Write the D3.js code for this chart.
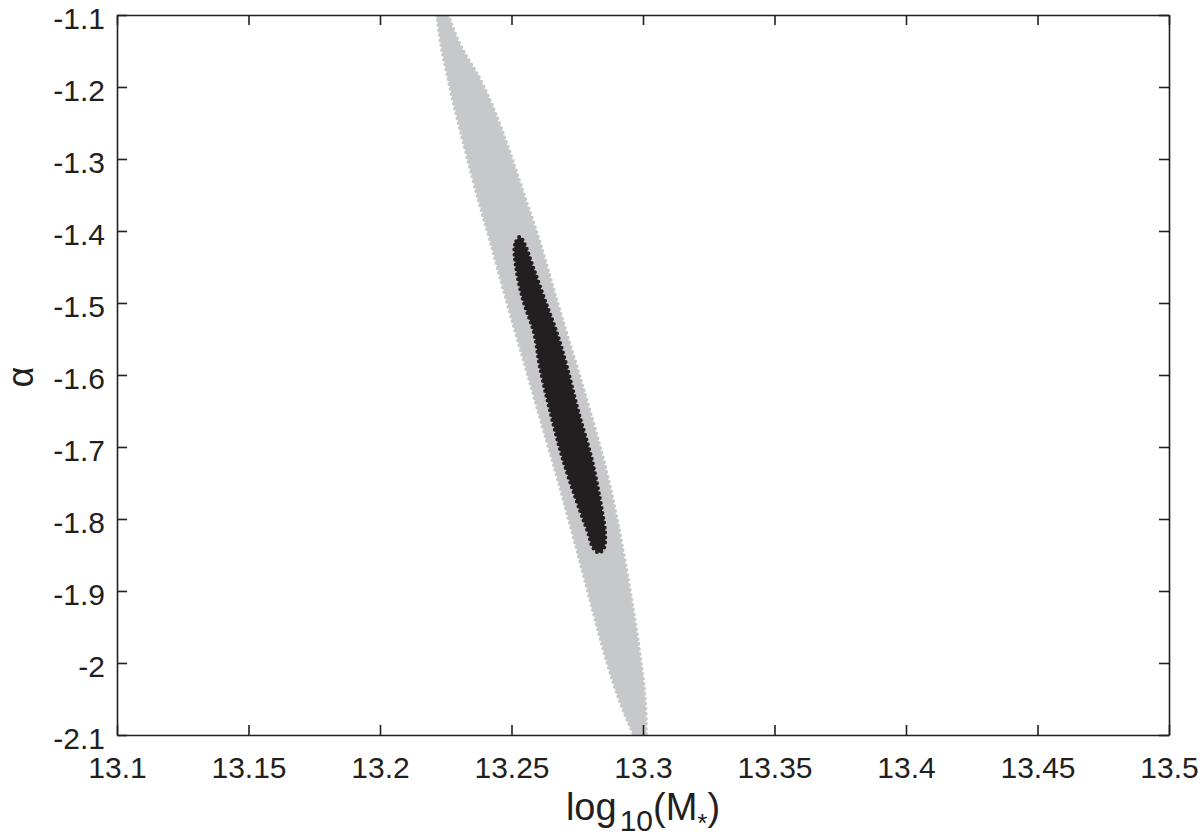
<!DOCTYPE html>
<html>
<head>
    <script src="https://d3js.org/d3.v7.min.js"></script>
    <style>
        body { margin: 0; background: #fff; }
        .axis text {
            font-family: "Liberation Sans", Arial, sans-serif;
            font-size: 30px;
            fill: #231f20;
        }
        .axis path, .axis line {
            stroke: #231f20;
            stroke-width: 1.6px;
        }
        .label {
            font-family: "Liberation Sans", Arial, sans-serif;
            fill: #231f20;
        }
    </style>
</head>
<body>
    <div id="chart"></div>

    <script>
        // tick values
        const xTicks = [13.1, 13.15, 13.2, 13.25, 13.3, 13.35, 13.4, 13.45, 13.5];
        const yTicks = [-2.1, -2, -1.9, -1.8, -1.7, -1.6, -1.5, -1.4, -1.3, -1.2, -1.1];

        // outer (grey) region: left and right edge of log10(M*) at each alpha level
        const outerAlpha = [-1.10, -1.12, -1.15, -1.18, -1.22, -1.29, -1.36, -1.41, -1.50, -1.58, -1.65, -1.72, -1.79, -1.90, -1.97, -2.05, -2.10];
        const outerLeft  = [13.2217, 13.2224, 13.2236, 13.2255, 13.2278, 13.2327, 13.2376, 13.2418, 13.2483, 13.2548, 13.2601, 13.2658, 13.2711, 13.2791, 13.2840, 13.2905, 13.2966];
        const outerRight = [13.2259, 13.2278, 13.2312, 13.2369, 13.2422, 13.2494, 13.2555, 13.2605, 13.2673, 13.2741, 13.2798, 13.2852, 13.2897, 13.2951, 13.2981, 13.3011, 13.3011];

        // inner (black) region
        const innerTop = [13.2532, -1.408];
        const innerBottom = [13.2833, -1.847];
        const innerAlpha = [-1.419, -1.450, -1.496, -1.542, -1.589, -1.649, -1.718, -1.788, -1.819, -1.840];
        const innerLeft  = [13.2513, 13.2517, 13.2544, 13.2586, 13.2608, 13.2646, 13.2696, 13.2760, 13.2791, 13.2810];
        const innerRight = [13.2551, 13.2582, 13.2627, 13.2673, 13.2711, 13.2753, 13.2806, 13.2844, 13.2856, 13.2852];

        const W = 1200, H = 840;
        const margin = { top: 15, right: 31, bottom: 105, left: 117 };
        const width = W - margin.left - margin.right;
        const height = H - margin.top - margin.bottom;

        const svg = d3.select("#chart").append("svg")
            .attr("width", W)
            .attr("height", H);

        const g = svg.append("g")
            .attr("transform", `translate(${margin.left},${margin.top})`);

        const x = d3.scaleLinear().domain([13.1, 13.5]).range([0, width]);
        const y = d3.scaleLinear().domain([-2.1, -1.1]).range([height, 0]);

        g.append("clipPath").attr("id", "plot-clip")
            .append("rect")
            .attr("width", width)
            .attr("height", height);

        const regions = g.append("g").attr("clip-path", "url(#plot-clip)");

        function drawRegion(d, color) {
            regions.append("path")
                .attr("d", d)
                .attr("fill", color);
            // dotted edge gives the scalloped look of the scatter grid
            regions.append("path")
                .attr("d", d)
                .attr("fill", "none")
                .attr("stroke", color)
                .attr("stroke-width", 4)
                .attr("stroke-linecap", "round")
                .attr("stroke-dasharray", "0 5");
        }

        // grey band: area between left and right edges
        const outerArea = d3.area()
            .y(i => y(outerAlpha[i]))
            .x0(i => x(outerLeft[i]))
            .x1(i => x(outerRight[i]))
            .curve(d3.curveBasis);
        drawRegion(outerArea(d3.range(outerAlpha.length)), "#c7c8ca");

        // black core: closed outline
        const innerPts = [innerTop]
            .concat(innerAlpha.map((a, i) => [innerLeft[i], a]))
            .concat([innerBottom])
            .concat(innerAlpha.map((a, i) => [innerRight[i], a]).reverse());
        const innerLine = d3.line()
            .x(d => x(d[0]))
            .y(d => y(d[1]))
            .curve(d3.curveCatmullRomClosed.alpha(0.5));
        drawRegion(innerLine(innerPts), "#231f20");

        const fmt = d => String(+d.toFixed(2));

        // axes, ticks pointing inward
        g.append("g")
            .attr("class", "axis")
            .attr("transform", `translate(0,${height})`)
            .call(d3.axisBottom(x).tickValues(xTicks).tickFormat(fmt)
                .tickSizeInner(-10).tickSizeOuter(0).tickPadding(22));

        g.append("g")
            .attr("class", "axis")
            .call(d3.axisLeft(y).tickValues(yTicks).tickFormat(fmt)
                .tickSizeInner(-10).tickSizeOuter(0).tickPadding(12))
            .selectAll("text").attr("dy", "0.44em");

        g.append("g")
            .attr("class", "axis")
            .call(d3.axisTop(x).tickValues(xTicks).tickFormat("")
                .tickSizeInner(-10).tickSizeOuter(0));

        g.append("g")
            .attr("class", "axis")
            .attr("transform", `translate(${width},0)`)
            .call(d3.axisRight(y).tickValues(yTicks).tickFormat("")
                .tickSizeInner(-10).tickSizeOuter(0));

        // x label: log10(M*)
        const xl = svg.append("text")
            .attr("class", "label")
            .attr("x", margin.left + width / 2)
            .attr("y", 820)
            .attr("text-anchor", "middle")
            .attr("font-size", 38);
        xl.append("tspan").text("log");
        xl.append("tspan").attr("font-size", 30).attr("dx", 3).attr("dy", 11).text("10");
        xl.append("tspan").attr("dy", -11).text("(M");
        xl.append("tspan").attr("font-size", 26).attr("dy", 12).text("*");
        xl.append("tspan").attr("dy", -12).text(")");

        // y label
        svg.append("text")
            .attr("class", "label")
            .attr("transform", `translate(33,${margin.top + height / 2 + 2}) rotate(-90)`)
            .attr("text-anchor", "middle")
            .attr("font-size", 36)
            .text("α");
    </script>
</body>
</html>
